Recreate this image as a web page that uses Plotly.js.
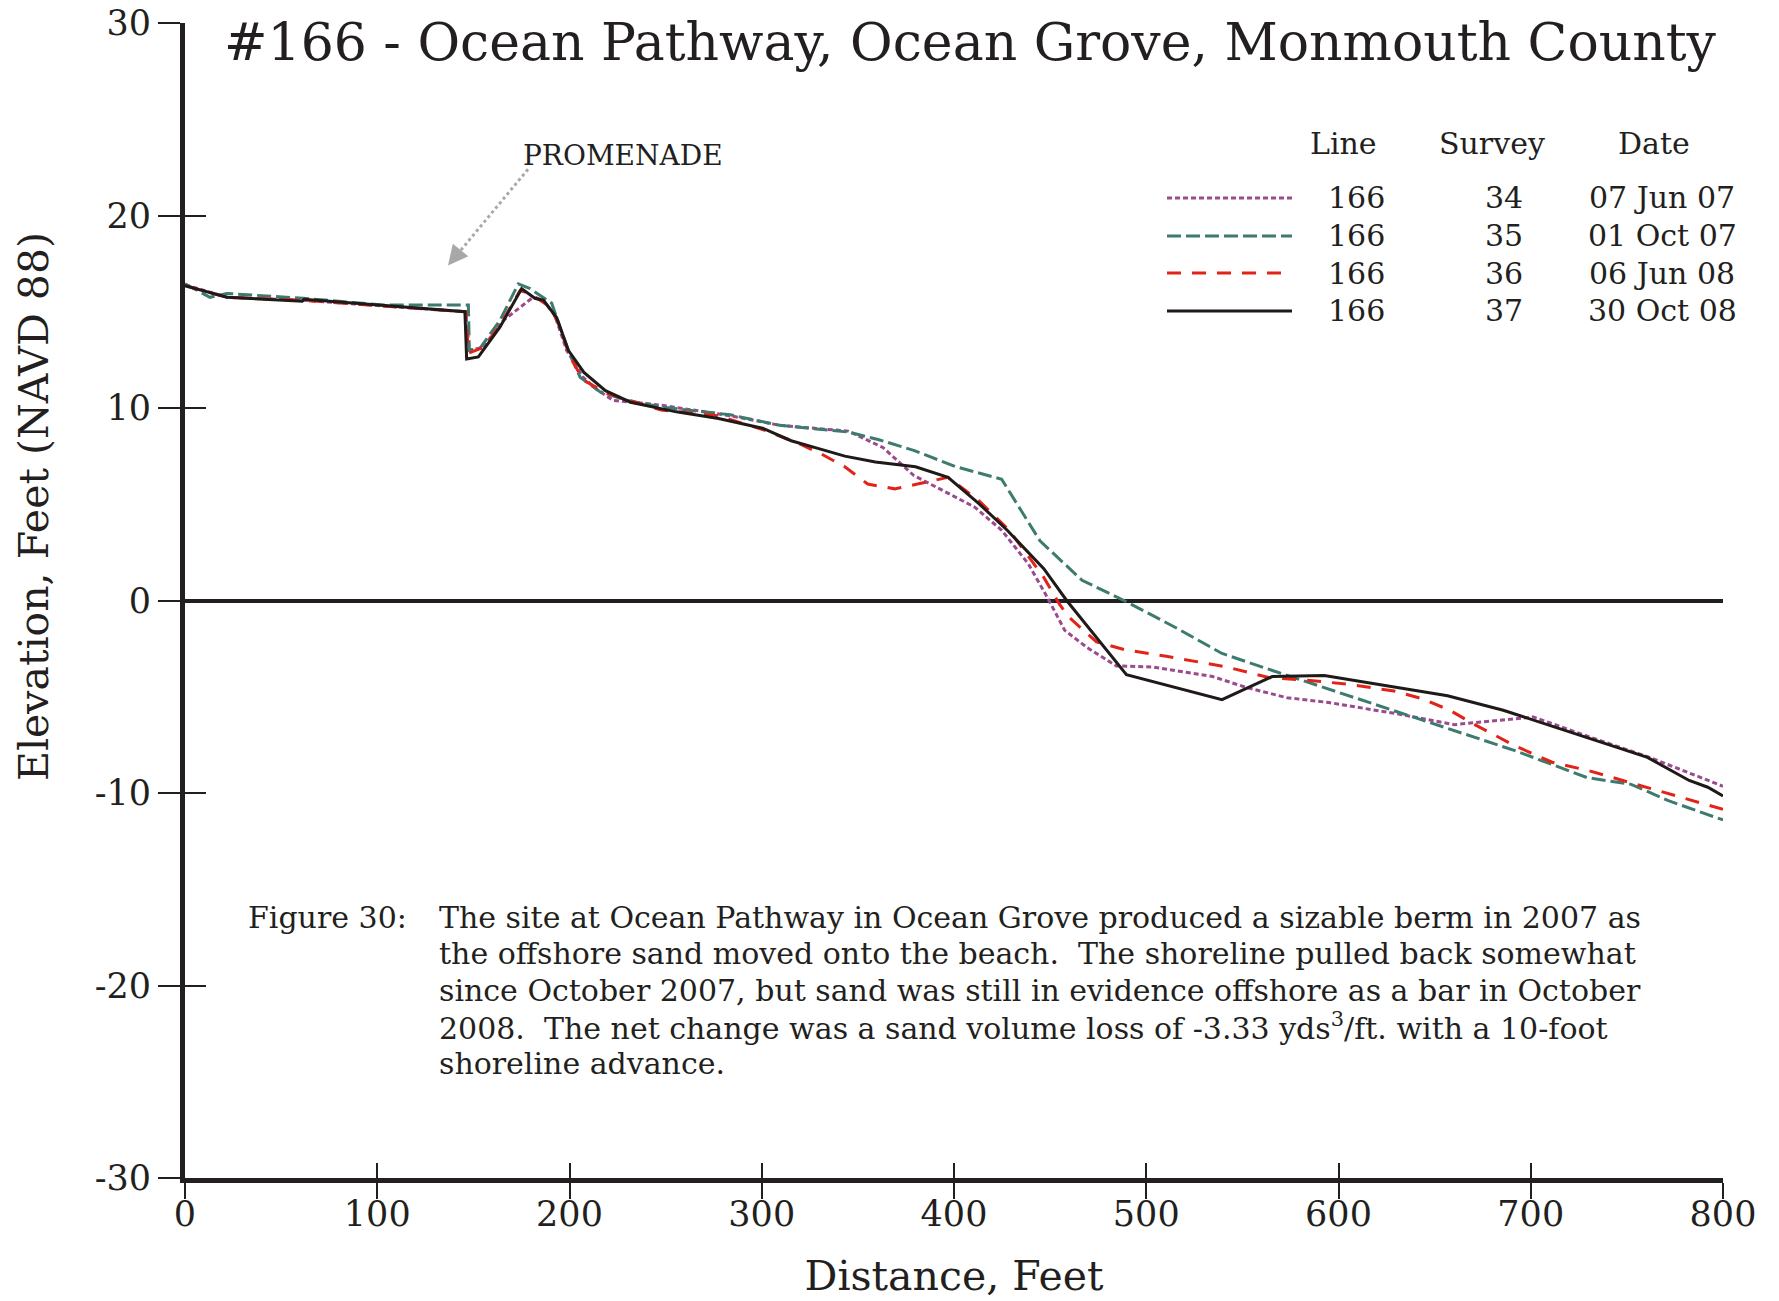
<!DOCTYPE html>
<html>
<head>
<meta charset="utf-8">
<script src="https://cdn.plot.ly/plotly-3.0.1.min.js"></script>
<style>
  html, body { margin: 0; padding: 0; background: #ffffff; }
  #chart { width: 1779px; height: 1301px; }
</style>
</head>
<body>
<div id="chart"></div>
<script>
// ---------------- Data ----------------
const lineNumbers = ['166', '166', '166', '166'];
const surveyNumbers = ['34', '35', '36', '37'];
const surveyDates = ['07 Jun 07', '01 Oct 07', '06 Jun 08', '30 Oct 08'];

// Survey 34 - 07 Jun 07
const distance34 = [0, 22, 61, 146, 147.9, 155, 165.6, 181, 186.4, 192.4, 198.5, 207, 215, 222.7, 247.6, 283.5, 309.3, 345, 363, 379, 410.8, 424.8, 438.7, 448.6, 457.6, 469.3, 484.5, 503, 534.5, 551.5, 573.2, 595, 631.3, 660.3, 701.4, 728, 761.8, 800];
const elevation34 = [16.4, 15.75, 15.6, 15.0, 13.0, 13.15, 14.55, 15.75, 15.6, 14.8, 13.0, 11.6, 10.9, 10.4, 10.15, 9.6, 9.1, 8.8, 7.95, 6.5, 4.85, 3.65, 1.9, 0.15, -1.55, -2.45, -3.4, -3.45, -3.95, -4.5, -5.05, -5.3, -5.9, -6.45, -6.05, -7.0, -8.15, -9.65];

// Survey 35 - 01 Oct 07
const distance35 = [0, 13, 21.7, 61.5, 103, 147.4, 147.9, 153.4, 163.8, 173.4, 179.5, 190.7, 194.2, 199.4, 205.5, 215.8, 229.7, 247.6, 283.5, 309.3, 345.1, 361, 379, 400.9, 424.8, 444.7, 466.6, 488.4, 515.2, 539.4, 566, 595, 624, 657.9, 691.8, 729.3, 752.2, 771.6, 800];
const elevation35 = [16.45, 15.75, 15.95, 15.7, 15.35, 15.35, 13.0, 13.1, 14.55, 16.45, 16.2, 15.45, 14.45, 13.0, 11.6, 10.85, 10.4, 10.05, 9.65, 9.1, 8.75, 8.35, 7.8, 6.95, 6.3, 3.1, 1.05, 0, -1.4, -2.75, -3.65, -4.6, -5.55, -6.65, -7.8, -9.2, -9.55, -10.4, -11.4];

// Survey 36 - 06 Jun 08
const distance36 = [0, 22, 61, 146, 147.4, 155.2, 163.8, 174.3, 179.5, 189.9, 194.2, 200.3, 207.2, 215, 219.7, 247.6, 277.5, 301.3, 319.3, 331.2, 343.2, 355.1, 369.1, 381, 396.9, 412.8, 428.7, 446.7, 454.6, 459.6, 474.1, 488.6, 510.4, 541.8, 563.6, 585.3, 604.7, 628.9, 643.4, 657.9, 670, 691.8, 711.1, 730.5, 759.5, 783.7, 800];
const elevation36 = [16.35, 15.75, 15.6, 15.0, 12.85, 13.15, 14.3, 16.1, 15.95, 15.25, 14.4, 12.65, 11.45, 11.0, 10.75, 9.9, 9.6, 8.85, 8.15, 7.6, 6.95, 6.05, 5.8, 6.05, 6.4, 5.2, 3.65, 1.2, -0.15, -0.85, -2.15, -2.55, -2.9, -3.45, -4.0, -4.15, -4.35, -4.7, -5.1, -5.7, -6.4, -7.55, -8.4, -8.85, -9.7, -10.4, -10.85];

// Survey 37 - 30 Oct 08
const distance37 = [0, 21.7, 61, 62, 145.6, 146.5, 152.6, 163.8, 175.1, 182, 186.4, 193.3, 199.4, 207.5, 218.7, 231.7, 255.6, 277.5, 300.4, 315.3, 329.2, 343.2, 359.1, 380, 396.9, 412.8, 427.7, 446.7, 458.6, 489.7, 539.4, 565.5, 592.6, 656.7, 685.7, 731.6, 760.7, 782.4, 792.1, 800];
const elevation37 = [16.35, 15.75, 15.55, 15.65, 15.0, 12.55, 12.65, 14.2, 16.2, 15.7, 15.6, 14.7, 13.0, 11.85, 10.9, 10.3, 9.8, 9.45, 8.95, 8.3, 7.9, 7.5, 7.2, 6.95, 6.4, 5.05, 3.65, 1.65, 0, -3.85, -5.15, -3.95, -3.9, -4.95, -5.7, -7.2, -8.15, -9.35, -9.7, -10.15];

const xTickValues = [0, 100, 200, 300, 400, 500, 600, 700, 800];
const xTickLabels = ['0', '100', '200', '300', '400', '500', '600', '700', '800'];
const yTickValues = [-30, -20, -10, 0, 10, 20, 30];
const yTickLabels = ['-30', '-20', '-10', '0', '10', '20', '30'];

const captionLabel = 'Figure 30:';
const captionLines = [
  'The site at Ocean Pathway in Ocean Grove produced a sizable berm in 2007 as',
  'the offshore sand moved onto the beach.  The shoreline pulled back somewhat',
  'since October 2007, but sand was still in evidence offshore as a bar in October',
  '2008.  The net change was a sand volume loss of -3.33 yds<sup>3</sup>/ft. with a 10-foot',
  'shoreline advance.'
];

// ---------------- Styles ----------------
const FONT = 'DejaVu Serif, Liberation Serif, serif';
const INK = '#231f20';
const seriesStyle = [
  { color: '#9b4b8d', dash: '5px,3px', width: 3 },
  { color: '#3d7b6f', dash: '14px,5px', width: 3 },
  { color: '#e2231a', dash: '14px,11px', width: 3 },
  { color: '#1f1a17', dash: 'solid', width: 3 }
];
const distances = [distance34, distance35, distance36, distance37];
const elevations = [elevation34, elevation35, elevation36, elevation37];

// Plot area in pixels (for paper conversions of the legend table / caption)
const W = 1779, H = 1301;
const L = 185, R = 1723, T = 23, B = 1178;
const px2paperX = (px) => (px - L) / (R - L);
const px2paperY = (py) => (B - py) / (B - T);

const traces = distances.map((xs, i) => ({
  type: 'scatter',
  mode: 'lines',
  x: xs,
  y: elevations[i],
  name: lineNumbers[i] + ' ' + surveyNumbers[i] + ' ' + surveyDates[i],
  line: { color: seriesStyle[i].color, dash: seriesStyle[i].dash, width: seriesStyle[i].width, shape: 'linear' },
  showlegend: false,
  hoverinfo: 'x+y+name'
}));
// empty helper trace so the overlay axes (inner half of crossing ticks) are drawn
traces.push({ type: 'scatter', mode: 'lines', x: [], y: [], xaxis: 'x2', yaxis: 'y2', showlegend: false, hoverinfo: 'skip' });

// ---------------- Legend table ----------------
const headerY = 143;
const rowY = [198, 236, 273, 311];
const colX = { line: 1356, survey: 1504, date: 1662 };
const annotations = [];
const shapes = [];
[['Line', 1343], ['Survey', 1492], ['Date', 1654]].forEach(([t, x]) => {
  annotations.push({ xref: 'paper', yref: 'paper', x: px2paperX(x), y: px2paperY(headerY),
    xanchor: 'center', yanchor: 'middle', text: t, showarrow: false,
    font: { family: FONT, size: 30, color: INK } });
});
rowY.forEach((ry, i) => {
  shapes.push({ type: 'line', xref: 'paper', yref: 'paper',
    x0: px2paperX(1167), x1: px2paperX(1292), y0: px2paperY(ry), y1: px2paperY(ry),
    line: { color: seriesStyle[i].color, dash: seriesStyle[i].dash, width: seriesStyle[i].width } });
  [[lineNumbers[i], colX.line], [surveyNumbers[i], colX.survey], [surveyDates[i], colX.date]].forEach(([t, x]) => {
    annotations.push({ xref: 'paper', yref: 'paper', x: px2paperX(x), y: px2paperY(ry),
      xanchor: 'center', yanchor: 'middle', text: t, showarrow: false,
      font: { family: FONT, size: 30, color: INK } });
  });
});

// ---------------- Promenade label with dotted arrow ----------------
annotations.push({ xref: 'paper', yref: 'paper', x: px2paperX(623), y: px2paperY(155),
  xanchor: 'center', yanchor: 'middle', text: 'PROMENADE', showarrow: false,
  font: { family: FONT, size: 28, color: INK } });
shapes.push({ type: 'line', xref: 'x', yref: 'y', x0: 178.4, y0: 22.4, x1: 141.0, y1: 17.9,
  line: { color: '#a8a8a8', width: 3, dash: 'dot' } });
annotations.push({ xref: 'x', yref: 'y', x: 136.8, y: 17.4, axref: 'x', ayref: 'y', ax: 142.5, ay: 18.1,
  text: '', showarrow: true, arrowhead: 2, arrowsize: 1.6, arrowwidth: 2.5, arrowcolor: '#a8a8a8', standoff: 0 });

// ---------------- Y axis title (placed off-centre as in the original) ----------------
annotations.push({ xref: 'paper', yref: 'paper', x: px2paperX(34), y: px2paperY(507),
  xanchor: 'center', yanchor: 'middle', textangle: -90, text: 'Elevation, Feet (NAVD 88)', showarrow: false,
  font: { family: FONT, size: 41, color: INK } });

// ---------------- Caption ----------------
annotations.push({ xref: 'paper', yref: 'paper', x: px2paperX(246), y: px2paperY(917),
  xanchor: 'left', yanchor: 'middle', text: captionLabel, showarrow: false,
  font: { family: FONT, size: 30, color: INK } });
const captionLineY = [917, 953.5, 990, 1026.5, 1063];
captionLines.forEach((t, i) => {
  annotations.push({ xref: 'paper', yref: 'paper', x: px2paperX(437), y: px2paperY(captionLineY[i]),
    xanchor: 'left', yanchor: 'middle', align: 'left', text: t, showarrow: false,
    font: { family: FONT, size: 30, color: INK } });
});

const axisCommon = { showgrid: false, tickcolor: INK, tickwidth: 2 };

const layout = {
  width: W, height: H,
  paper_bgcolor: '#ffffff', plot_bgcolor: '#ffffff',
  margin: { l: L, r: W - R, t: T, b: H - B, pad: 0 },
  showlegend: false,
  title: {
    text: '#166 - Ocean Pathway, Ocean Grove, Monmouth County',
    font: { family: FONT, size: 52, color: INK },
    xref: 'paper', x: px2paperX(970), xanchor: 'center',
    yref: 'container', y: 1 - 42 / H, yanchor: 'middle'
  },
  xaxis: Object.assign({}, axisCommon, {
    range: [0, 800], tickmode: 'array', tickvals: xTickValues, ticktext: xTickLabels,
    ticks: 'outside', ticklen: 16, ticklabelstandoff: -15,
    showline: true, linecolor: INK, linewidth: 5, zeroline: false,
    tickfont: { family: FONT, size: 35, color: INK },
    title: { text: 'Distance, Feet', font: { family: FONT, size: 41, color: INK }, standoff: 30 },
    automargin: false
  }),
  yaxis: Object.assign({}, axisCommon, {
    range: [-30, 30], tickmode: 'array', tickvals: yTickValues, ticktext: yTickLabels,
    ticks: 'outside', ticklen: 22,
    showline: true, linecolor: INK, linewidth: 5,
    zeroline: true, zerolinecolor: INK, zerolinewidth: 3.5,
    tickfont: { family: FONT, size: 35, color: INK },
    automargin: false
  }),
  xaxis2: Object.assign({}, axisCommon, {
    overlaying: 'x', anchor: 'y2', side: 'bottom', range: [0, 800],
    tickmode: 'array', tickvals: xTickValues, ticks: 'inside', ticklen: 15,
    showticklabels: false, showline: false, zeroline: false
  }),
  yaxis2: Object.assign({}, axisCommon, {
    overlaying: 'y', anchor: 'x2', side: 'left', range: [-30, 30],
    tickmode: 'array', tickvals: yTickValues, ticks: 'inside', ticklen: 21,
    showticklabels: false, showline: false, zeroline: false
  }),
  annotations: annotations,
  shapes: shapes
};

Plotly.newPlot('chart', traces, layout, { displayModeBar: false, responsive: false });
</script>
</body>
</html>
